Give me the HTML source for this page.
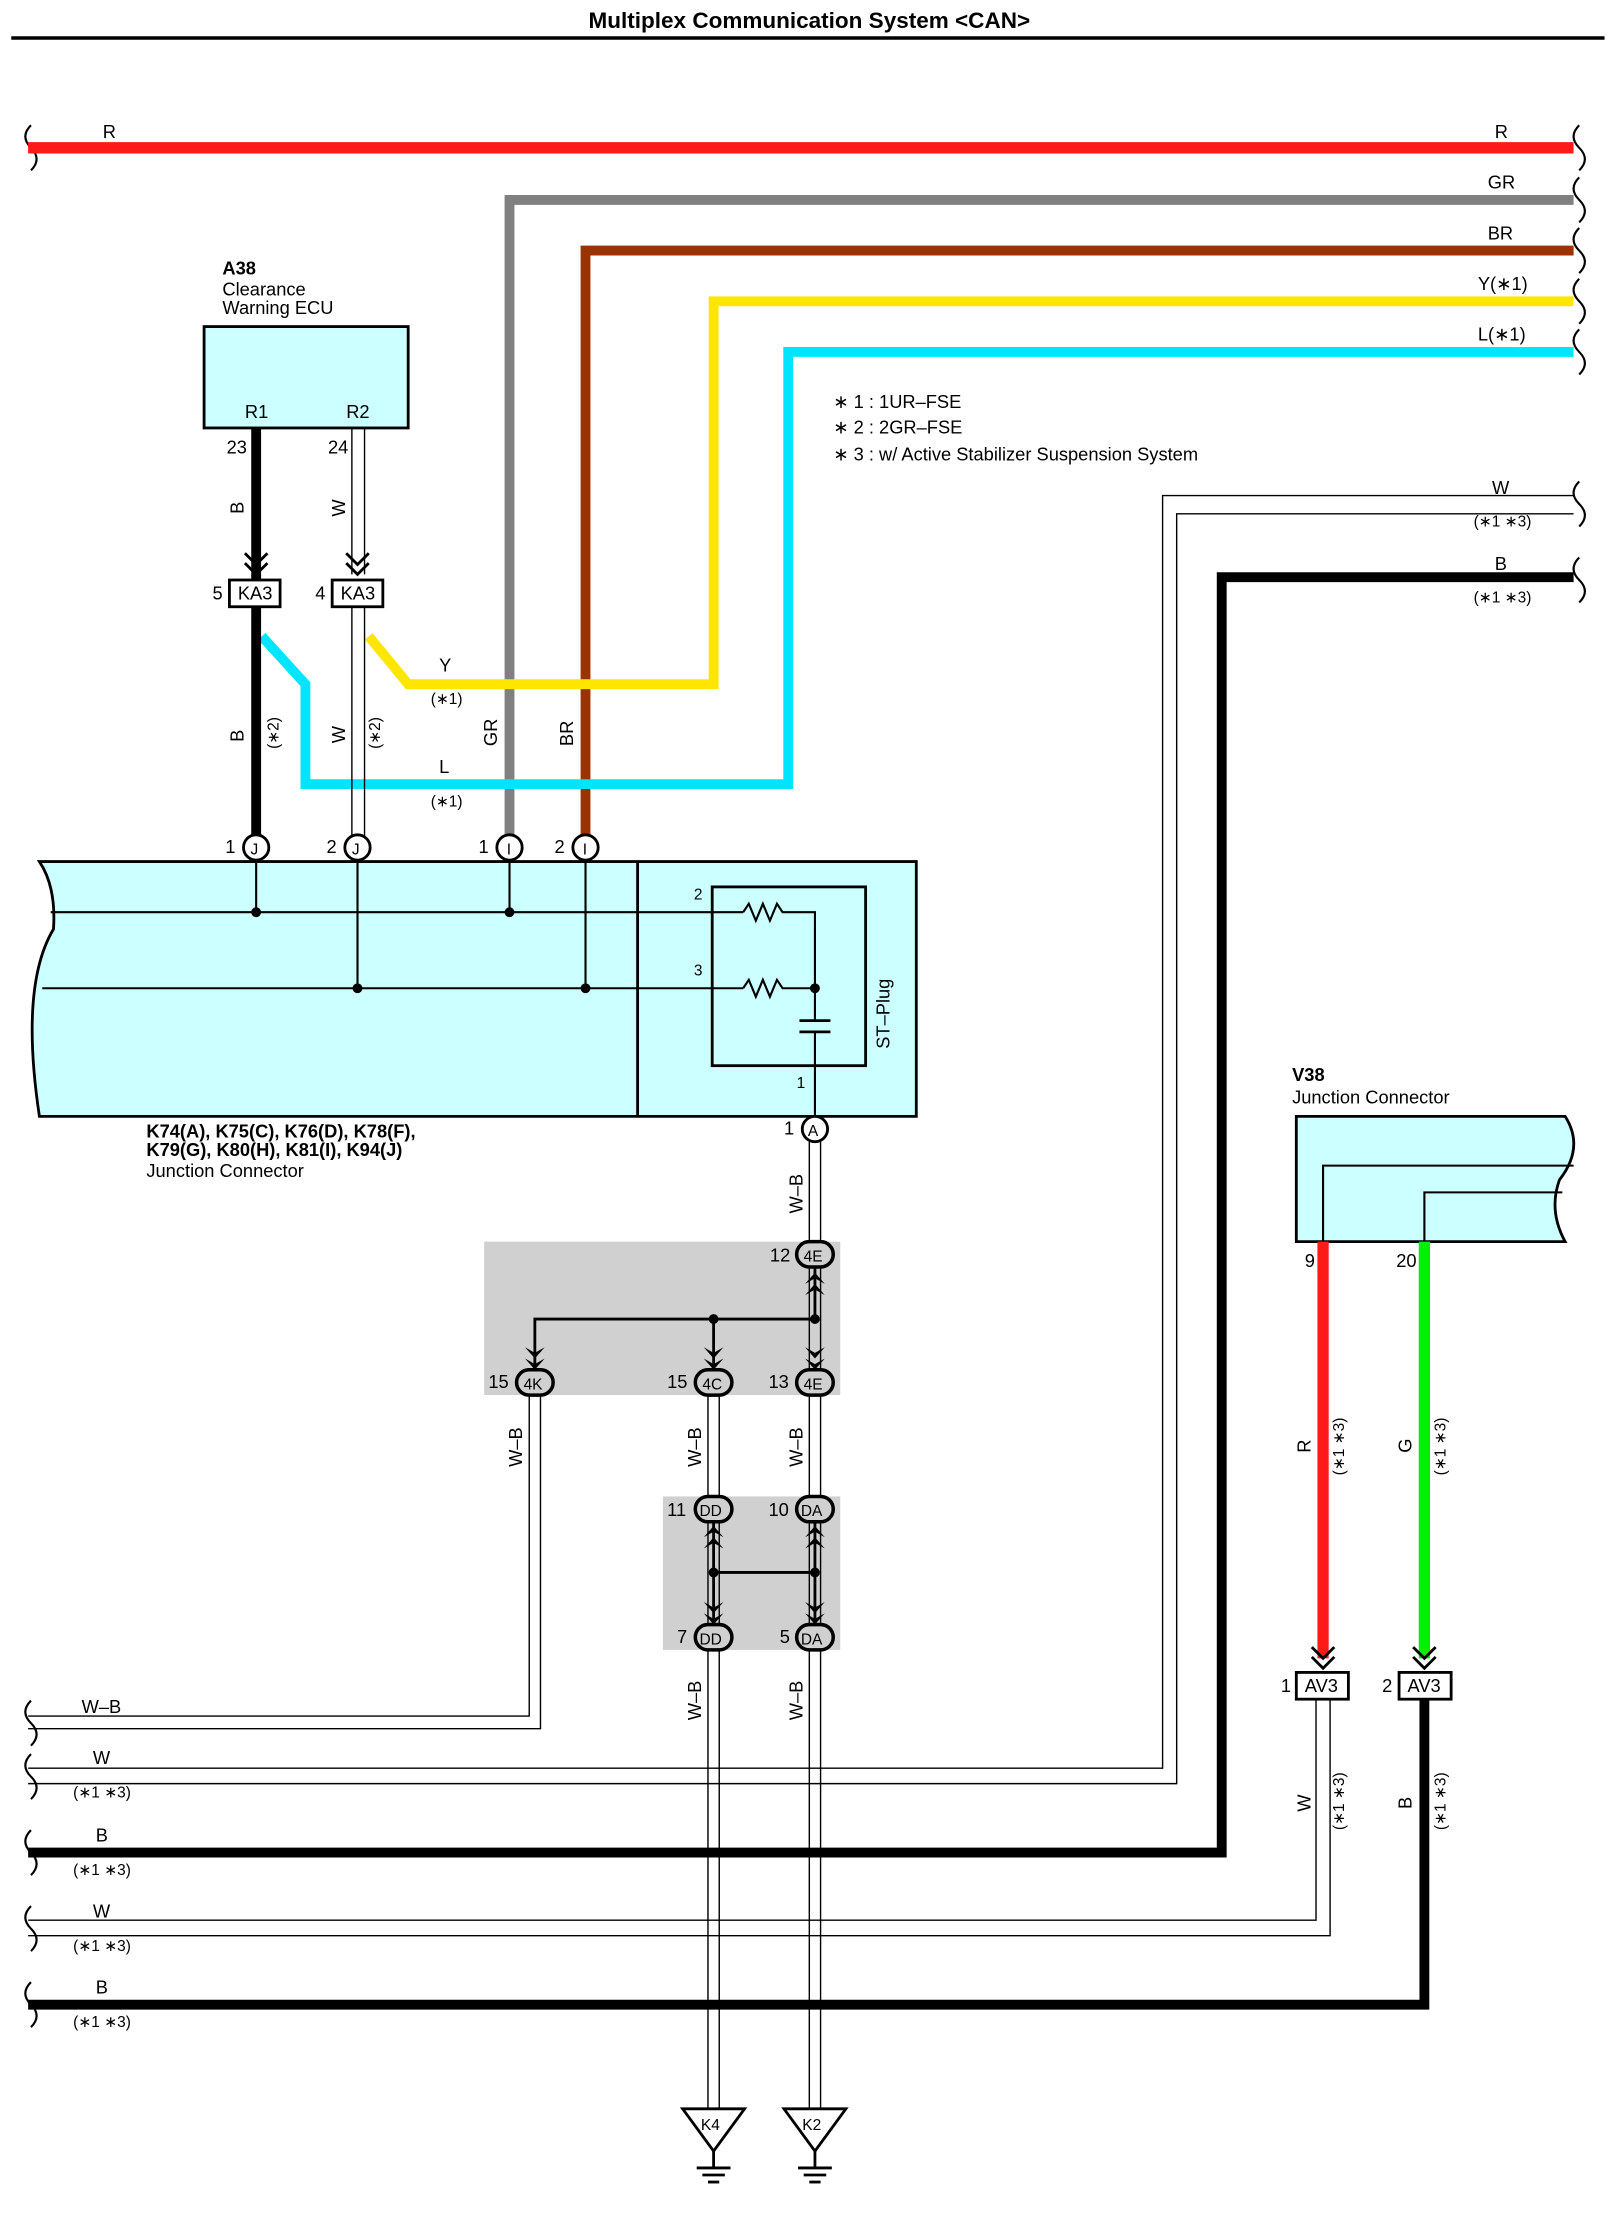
<!DOCTYPE html>
<html><head><meta charset="utf-8"><style>
html,body{margin:0;padding:0;background:#fff}
svg{display:block}
text{font-family:"Liberation Sans",sans-serif;font-size:13px;fill:#000}
.s{font-size:11px}
</style></head><body>
<svg width="1613" height="2213" viewBox="0 0 1146 1572" preserveAspectRatio="none" xmlns="http://www.w3.org/2000/svg">
<rect width="1146" height="1572" fill="#fff"/>
<text x="575" y="20" text-anchor="middle" style="font-weight:bold;font-size:16px">Multiplex Communication System &lt;CAN&gt;</text>
<line x1="8" y1="27" x2="1140" y2="27" stroke="#000" stroke-width="2.5"/>

<!-- break marks -->
<g fill="none" stroke="#000" stroke-width="1.5">
<path d="M22,89 q-8,8 0,16 q8,8 0,16"/>
<path d="M1122,89 q-8,8 0,16 q8,8 0,16"/>
<path d="M1122,126 q-8,8 0,16 q8,8 0,16"/>
<path d="M1122,162 q-8,8 0,16 q8,8 0,16"/>
<path d="M1122,198 q-8,8 0,16 q8,8 0,16"/>
<path d="M1122,234 q-8,8 0,16 q8,8 0,16"/>
<path d="M1122,342 q-8,8 0,16 q8,8 0,16"/>
<path d="M1122,396 q-8,8 0,16 q8,8 0,16"/>
<path d="M22,1208 q-8,8 0,16 q8,8 0,16"/>
<path d="M22,1246 q-8,8 0,16 q8,8 0,16"/>
<path d="M22,1300 q-8,8 0,16 q8,8 0,16"/>
<path d="M22,1354 q-8,8 0,16 q8,8 0,16"/>
<path d="M22,1408 q-8,8 0,16 q8,8 0,16"/>
</g>

<!-- colored wires -->
<line x1="20" y1="105" x2="1118" y2="105" stroke="#ff1a1a" stroke-width="8"/>
<path d="M362,600 V142 H1118" fill="none" stroke="#808080" stroke-width="7"/>
<path d="M416,600 V178 H1118" fill="none" stroke="#993300" stroke-width="7"/>
<path d="M262,452 L290,486 H507 V214 H1118" fill="none" stroke="#ffe600" stroke-width="7"/>
<path d="M186,452 L217,486 V557 H560 V250 H1118" fill="none" stroke="#00e5ff" stroke-width="7"/>
<text x="73" y="98">R</text><text x="1062" y="98">R</text>
<text x="1057" y="134">GR</text><text x="1057" y="170">BR</text>
<text x="1050" y="206">Y(∗1)</text><text x="1050" y="242">L(∗1)</text>
<text x="312" y="477">Y</text><text x="306" y="500" class="s">(∗1)</text>
<text x="312" y="549">L</text><text x="306" y="573" class="s">(∗1)</text>
<text transform="translate(353,530) rotate(-90)">GR</text>
<text transform="translate(407,530) rotate(-90)">BR</text>

<text x="592" y="290">∗ 1 : 1UR–FSE</text>
<text x="592" y="308">∗ 2 : 2GR–FSE</text>
<text x="592" y="327">∗ 3 : w/ Active Stabilizer Suspension System</text>

<!-- W right wire double -->
<path d="M1118,352 H826 V1256 H20" fill="none" stroke="#000" stroke-width="1"/>
<path d="M1118,365 H836 V1267 H20" fill="none" stroke="#000" stroke-width="1"/>
<text x="1060" y="351">W</text><text x="1047" y="374" class="s">(∗1 ∗3)</text>
<path d="M1118,410 H868 V1316 H20" fill="none" stroke="#000" stroke-width="7"/>
<text x="1062" y="405">B</text><text x="1047" y="428" class="s">(∗1 ∗3)</text>

<!-- A38 -->
<text x="158" y="195" style="font-weight:bold">A38</text>
<text x="158" y="210">Clearance</text><text x="158" y="223">Warning ECU</text>
<rect x="145" y="232" width="145" height="72" fill="#ccffff" stroke="#000" stroke-width="2"/>
<text x="174" y="297">R1</text><text x="246" y="297">R2</text>
<text x="161" y="322">23</text><text x="233" y="322">24</text>
<line x1="182" y1="304" x2="182" y2="412" stroke="#000" stroke-width="7"/>
<line x1="250" y1="304" x2="250" y2="408" stroke="#000"/><line x1="259" y1="304" x2="259" y2="408" stroke="#000"/>
<path d="M174,393 l8,8 l8,-8 M174,400 l8,8 l8,-8" fill="none" stroke="#000" stroke-width="2"/>
<path d="M246,393 l8,8 l8,-8 M246,400 l8,8 l8,-8" fill="none" stroke="#000" stroke-width="2"/>
<text transform="translate(173,365) rotate(-90)">B</text>
<text transform="translate(245,367) rotate(-90)">W</text>
<rect x="163" y="412" width="36" height="19" fill="#fff" stroke="#000" stroke-width="2"/><text x="169" y="426">KA3</text>
<rect x="236" y="412" width="36" height="19" fill="#fff" stroke="#000" stroke-width="2"/><text x="242" y="426">KA3</text>
<text x="151" y="426">5</text><text x="224" y="426">4</text>
<line x1="182" y1="431" x2="182" y2="594" stroke="#000" stroke-width="7"/>
<line x1="250" y1="431" x2="250" y2="594" stroke="#000"/><line x1="259" y1="431" x2="259" y2="594" stroke="#000"/>
<text transform="translate(173,527) rotate(-90)">B</text><text transform="translate(198,532) rotate(-90)" class="s">(∗2)</text>
<text transform="translate(245,528) rotate(-90)">W</text><text transform="translate(270,532) rotate(-90)" class="s">(∗2)</text>

<!-- big junction connector -->
<path d="M28,612 H651 V793 H28 Q14,700 38,660 Q40,630 28,612 Z" fill="#ccffff" stroke="#000" stroke-width="2"/>
<line x1="453" y1="612" x2="453" y2="793" stroke="#000" stroke-width="2"/>
<g stroke="#000" stroke-width="1.5" fill="none">
<line x1="36" y1="648" x2="528" y2="648"/><line x1="30" y1="702" x2="528" y2="702"/>
<line x1="182" y1="612" x2="182" y2="648"/><line x1="254" y1="612" x2="254" y2="702"/>
<line x1="362" y1="612" x2="362" y2="648"/><line x1="416" y1="612" x2="416" y2="702"/>
<rect x="506" y="630" width="109" height="127" stroke-width="2"/>
<path d="M528,648 l4,-6 l5,12 l5,-12 l5,12 l5,-12 l4,6 H579 V725"/>
<path d="M528,702 l4,-6 l5,12 l5,-12 l5,12 l5,-12 l4,6 H579"/>
<line x1="568" y1="725" x2="590" y2="725" stroke-width="2"/><line x1="568" y1="733" x2="590" y2="733" stroke-width="2"/>
<line x1="579" y1="733" x2="579" y2="793"/>
</g>
<g fill="#000"><circle cx="182" cy="648" r="3.5"/><circle cx="362" cy="648" r="3.5"/><circle cx="254" cy="702" r="3.5"/><circle cx="416" cy="702" r="3.5"/><circle cx="579" cy="702" r="3.5"/></g>
<text x="493" y="639" class="s">2</text><text x="493" y="693" class="s">3</text><text x="566" y="773" class="s">1</text>
<text transform="translate(632,745) rotate(-90)">ST–Plug</text>
<g fill="#fff" stroke="#000" stroke-width="2">
<circle cx="182" cy="602" r="9"/><circle cx="254" cy="602" r="9"/><circle cx="362" cy="602" r="9"/><circle cx="416" cy="602" r="9"/><circle cx="579" cy="802" r="9"/></g>
<text x="178" y="607" class="s">J</text><text x="250" y="607" class="s">J</text><text x="360" y="607" class="s">I</text><text x="414" y="607" class="s">I</text><text x="574" y="807" class="s">A</text>
<text x="160" y="606">1</text><text x="232" y="606">2</text><text x="340" y="606">1</text><text x="394" y="606">2</text><text x="557" y="806">1</text>
<text x="104" y="808" style="font-weight:bold">K74(A), K75(C), K76(D), K78(F),</text>
<text x="104" y="821" style="font-weight:bold">K79(G), K80(H), K81(I), K94(J)</text>
<text x="104" y="836">Junction Connector</text>

<!-- gray boxes -->
<rect x="344" y="882" width="253" height="109" fill="#d0d0d0"/>
<rect x="471" y="1063" width="126" height="109" fill="#d0d0d0"/>
<!-- W-B wires -->
<g stroke="#000" stroke-width="1">
<line x1="575" y1="811" x2="575" y2="1500"/><line x1="583" y1="811" x2="583" y2="1500"/>
<line x1="503" y1="991" x2="503" y2="1500"/><line x1="511" y1="991" x2="511" y2="1500"/>
<path d="M376,991 V1219 H20" fill="none"/><path d="M384,991 V1228 H20" fill="none"/>
</g>
<g stroke="#000" stroke-width="2" fill="none">
<path d="M380,970 V937 H579 V900"/><line x1="507" y1="937" x2="507" y2="970"/>
<path d="M507,1082 V1117 H579 V1082 M507,1117 V1150 M579,1117 V1150"/>
</g>
<circle cx="507" cy="937" r="3.5"/><circle cx="579" cy="937" r="3.5"/><circle cx="507" cy="1117" r="3.5"/><circle cx="579" cy="1117" r="3.5"/>
<g fill="#000">
<path d="M572,912 l7,-8 l7,8 l-7,-4z M572,920 l7,-8 l7,8 l-7,-4z"/>
<path d="M373,957 l7,8 l7,-8 l-7,4z M373,965 l7,8 l7,-8 l-7,4z"/>
<path d="M500,957 l7,8 l7,-8 l-7,4z M500,965 l7,8 l7,-8 l-7,4z"/>
<path d="M572,957 l7,8 l7,-8 l-7,4z M572,965 l7,8 l7,-8 l-7,4z"/>
<path d="M500,1092 l7,-8 l7,8 l-7,-4z M500,1100 l7,-8 l7,8 l-7,-4z"/>
<path d="M572,1092 l7,-8 l7,8 l-7,-4z M572,1100 l7,-8 l7,8 l-7,-4z"/>
<path d="M500,1138 l7,8 l7,-8 l-7,4z M500,1146 l7,8 l7,-8 l-7,4z"/>
<path d="M572,1138 l7,8 l7,-8 l-7,4z M572,1146 l7,8 l7,-8 l-7,4z"/>
</g>
<g fill="#d0d0d0" stroke="#000" stroke-width="2.5">
<rect x="566" y="882" width="26" height="18" rx="9"/>
<rect x="367" y="973" width="26" height="18" rx="9"/>
<rect x="494" y="973" width="26" height="18" rx="9"/>
<rect x="566" y="973" width="26" height="18" rx="9"/>
<rect x="494" y="1063" width="26" height="18" rx="9"/>
<rect x="566" y="1063" width="26" height="18" rx="9"/>
<rect x="494" y="1154" width="26" height="18" rx="9"/>
<rect x="566" y="1154" width="26" height="18" rx="9"/>
</g>
<g class="s">
<text x="571" y="896" class="s">4E</text><text x="372" y="987" class="s">4K</text><text x="499" y="987" class="s">4C</text><text x="571" y="987" class="s">4E</text>
<text x="497" y="1077" class="s">DD</text><text x="569" y="1077" class="s">DA</text><text x="497" y="1168" class="s">DD</text><text x="569" y="1168" class="s">DA</text>
</g>
<text x="547" y="896">12</text><text x="347" y="986">15</text><text x="474" y="986">15</text><text x="546" y="986">13</text>
<text x="474" y="1077">11</text><text x="546" y="1077">10</text><text x="481" y="1167">7</text><text x="554" y="1167">5</text>
<text transform="translate(570,862) rotate(-90)">W–B</text>
<text transform="translate(371,1042) rotate(-90)">W–B</text>
<text transform="translate(498,1042) rotate(-90)">W–B</text>
<text transform="translate(570,1042) rotate(-90)">W–B</text>
<text transform="translate(498,1222) rotate(-90)">W–B</text>
<text transform="translate(570,1222) rotate(-90)">W–B</text>
<text x="58" y="1217">W–B</text>

<!-- grounds -->
<g fill="#fff" stroke="#000" stroke-width="2">
<path d="M485,1498 H529 L507,1528 Z"/><path d="M557,1498 H601 L579,1528 Z"/></g>
<text x="498" y="1513" class="s">K4</text><text x="570" y="1513" class="s">K2</text>
<g stroke="#000" stroke-width="2">
<line x1="507" y1="1528" x2="507" y2="1540"/><line x1="495" y1="1540" x2="519" y2="1540"/><line x1="499" y1="1545" x2="515" y2="1545"/><line x1="503" y1="1550" x2="511" y2="1550"/>
<line x1="579" y1="1528" x2="579" y2="1540"/><line x1="567" y1="1540" x2="591" y2="1540"/><line x1="571" y1="1545" x2="587" y2="1545"/><line x1="575" y1="1550" x2="583" y2="1550"/>
</g>

<!-- V38 -->
<text x="918" y="768" style="font-weight:bold">V38</text><text x="918" y="784">Junction Connector</text>
<path d="M921,793 H1112 Q1126,815 1108,838 Q1100,860 1112,882 H921 Z" fill="#ccffff" stroke="#000" stroke-width="2"/>
<path d="M940,882 V828 H1118" fill="none" stroke="#000" stroke-width="1.5"/>
<path d="M1012,882 V847 H1110" fill="none" stroke="#000" stroke-width="1.5"/>
<text x="927" y="900">9</text><text x="992" y="900">20</text>
<line x1="940" y1="882" x2="940" y2="1178" stroke="#ff1a1a" stroke-width="8"/>
<line x1="1012" y1="882" x2="1012" y2="1178" stroke="#00ee00" stroke-width="8"/>
<path d="M932,1170 l8,8 l8,-8 M932,1177 l8,8 l8,-8 M1004,1170 l8,8 l8,-8 M1004,1177 l8,8 l8,-8" fill="none" stroke="#000" stroke-width="2"/>
<text transform="translate(931,1032) rotate(-90)">R</text><text transform="translate(955,1048) rotate(-90)" class="s">(∗1 ∗3)</text>
<text transform="translate(1003,1032) rotate(-90)">G</text><text transform="translate(1027,1048) rotate(-90)" class="s">(∗1 ∗3)</text>
<rect x="921" y="1188" width="37" height="19" fill="#fff" stroke="#000" stroke-width="2"/><text x="927" y="1202">AV3</text>
<rect x="994" y="1188" width="37" height="19" fill="#fff" stroke="#000" stroke-width="2"/><text x="1000" y="1202">AV3</text>
<text x="910" y="1202">1</text><text x="982" y="1202">2</text>
<path d="M935,1207 V1364 H20" fill="none" stroke="#000"/><path d="M945,1207 V1375 H20" fill="none" stroke="#000"/>
<path d="M1012,1207 V1424 H20" fill="none" stroke="#000" stroke-width="7"/>
<text transform="translate(931,1287) rotate(-90)">W</text><text transform="translate(955,1300) rotate(-90)" class="s">(∗1 ∗3)</text>
<text transform="translate(1003,1285) rotate(-90)">B</text><text transform="translate(1027,1300) rotate(-90)" class="s">(∗1 ∗3)</text>

<text x="66" y="1253">W</text><text x="52" y="1277" class="s">(∗1 ∗3)</text>
<text x="68" y="1308">B</text><text x="52" y="1332" class="s">(∗1 ∗3)</text>
<text x="66" y="1362">W</text><text x="52" y="1386" class="s">(∗1 ∗3)</text>
<text x="68" y="1416">B</text><text x="52" y="1440" class="s">(∗1 ∗3)</text>
</svg>
</body></html>
